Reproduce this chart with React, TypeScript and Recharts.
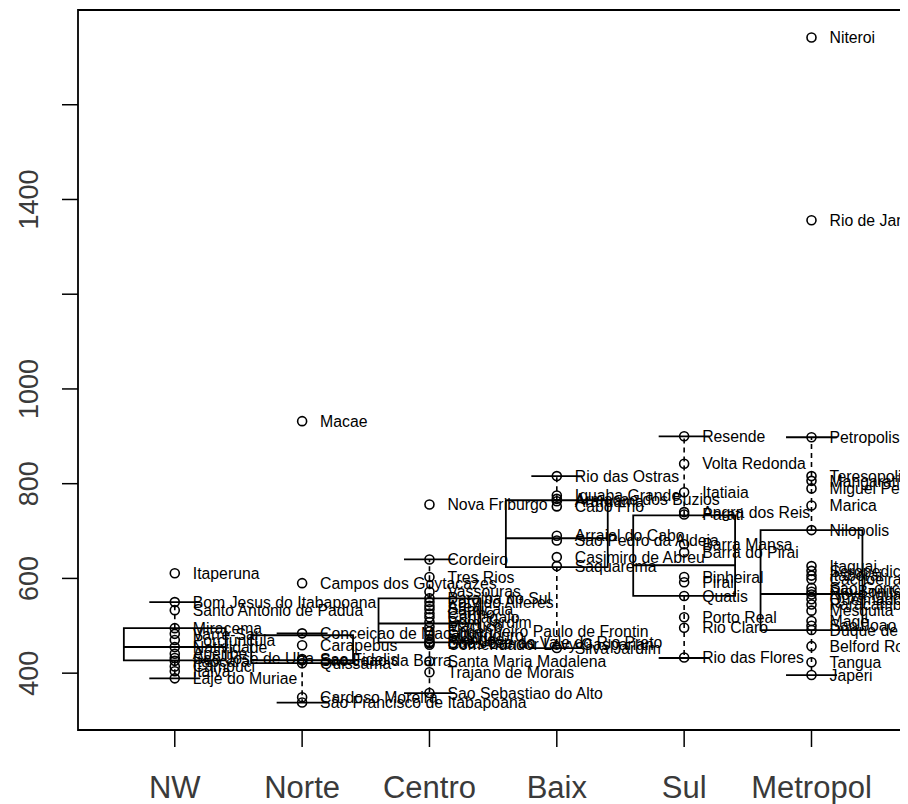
import {
  ComposedChart,
  Scatter,
  XAxis,
  YAxis,
  ReferenceArea,
  ReferenceLine,
} from 'recharts';

const regions = ['NW', 'Norte', 'Centro', 'Baix', 'Sul', 'Metropol'];

const yTicks = [400, 600, 800, 1000, 1200, 1400, 1600];
const yTickLabels = ['400', '600', '800', '1000', '', '1400', ''];

// box statistics, one entry per region
const whiskerLow = [389, 338, 358, 453, 432, 396];
const lowerHinge = [427, 421, 465, 624, 563, 491];
const medians = [455, 427, 505, 685, 628, 567];
const upperHinge = [495, 480, 558, 765, 733, 702];
const whiskerHigh = [550, 484, 640, 816, 900, 898];

const nwNames = [
  'Itaperuna', 'Bom Jesus do Itabapoana', 'Santo Antonio de Padua', 'Miracema',
  'Varre-Sai', 'Porciuncula', 'Natividade', 'Aperibe', 'Sao Jose de Uba',
  'Itaocara', 'Cambuci', 'Italva', 'Laje do Muriae',
];
const nwValues = [611, 550, 533, 495, 483, 470, 455, 441, 432, 426, 414, 404, 389];

const norteNames = [
  'Macae', 'Campos dos Goytacazes', 'Conceicao de Macabu', 'Carapebus',
  'Sao Fidelis', 'Sao Joao da Barra', 'Quissama', 'Cardoso Moreira',
  'São Francisco de Itabapoana',
];
const norteValues = [932, 590, 484, 459, 430, 427, 421, 349, 338];

const centroNames = [
  'Nova Friburgo', 'Cordeiro', 'Tres Rios', 'Vassouras', 'Paraiba do Sul',
  'Paty do Alferes', 'Areal', 'Sapucaia', 'Carmo', 'Cantagalo', 'Bom Jardim',
  'Macuco', 'Engenheiro Paulo de Frontin', 'Sumidouro', 'Mendes',
  'Sao Jose do Vale do Rio Preto', 'Duas Barras', 'Comendador Levy Gasparian',
  'Santa Maria Madalena', 'Trajano de Morais', 'Sao Sebastiao do Alto',
];
const centroValues = [
  756, 640, 603, 572, 558, 550, 542, 535, 526, 518, 508, 498, 488, 480, 472,
  466, 463, 460, 425, 402, 358,
];

const baixNames = [
  'Rio das Ostras', 'Iguaba Grande', 'Armacao dos Buzios', 'Araruama',
  'Cabo Frio', 'Arraial do Cabo', 'Sao Pedro da Aldeia', 'Casimiro de Abreu',
  'Saquarema', 'Silva Jardim',
];
const baixValues = [816, 775, 768, 763, 752, 690, 680, 645, 626, 453];

const sulNames = [
  'Resende', 'Volta Redonda', 'Itatiaia', 'Angra dos Reis', 'Parati',
  'Barra Mansa', 'Barra do Pirai', 'Pinheiral', 'Pirai', 'Quatis',
  'Porto Real', 'Rio Claro', 'Rio das Flores',
];
const sulValues = [900, 842, 782, 740, 735, 672, 655, 603, 592, 563, 518, 496, 433];

const metroNames = [
  'Niteroi', 'Rio de Janeiro', 'Petropolis', 'Teresopolis', 'Mangaratiba',
  'Miguel Pereira', 'Marica', 'Nilopolis', 'Itaguai', 'Seropedica', 'Itaborai',
  'Cachoeiras de Macacu', 'Sao Goncalo', 'Rio Bonito', 'Nova Iguacu',
  'Queimados', 'Paracambi', 'Mesquita', 'Mage', 'Sao Joao de Meriti',
  'Duque de Caxias', 'Belford Roxo', 'Tangua', 'Japeri',
];
const metroValues = [
  1742, 1356, 898, 816, 806, 790, 754, 702, 626, 616, 606, 598, 580, 572, 566,
  556, 545, 532, 510, 500, 491, 457, 423, 396,
];

const groups = [
  { names: nwNames, values: nwValues },
  { names: norteNames, values: norteValues },
  { names: centroNames, values: centroValues },
  { names: baixNames, values: baixValues },
  { names: sulNames, values: sulValues },
  { names: metroNames, values: metroValues },
];

const points = groups.flatMap((g, i) =>
  g.values.map((v, j) => ({ x: i + 1, y: v, name: g.names[j] }))
);

const xDomain: [number, number] = [0.24, 6.75];
const yDomain: [number, number] = [280, 1800];
const BOX_HALF = 0.4;
const CAP_HALF = 0.2;
const INK = '#000';
const AXIS_INK = '#3a3a3a';
const FONT = '"Liberation Sans", Arial, sans-serif';

function PointWithLabel(props: any) {
  const { cx, cy, payload } = props;
  if (cx == null || cy == null) return null;
  return (
    <g>
      <circle cx={cx} cy={cy} r={4.5} fill="none" stroke={INK} strokeWidth={1.6} />
      <text
        x={cx + 18}
        y={cy}
        dy="0.36em"
        fontSize={15.8}
        fontFamily={FONT}
        fill={INK}
      >
        {payload.name}
      </text>
    </g>
  );
}

function YTick(props: any) {
  const { x, y, payload } = props;
  const label = yTickLabels[yTicks.indexOf(payload.value)];
  if (!label) return null;
  return (
    <text
      x={x}
      y={y}
      transform={`rotate(-90, ${x}, ${y})`}
      textAnchor="middle"
      fontSize={27}
      fontFamily={FONT}
      fill={AXIS_INK}
    >
      {label}
    </text>
  );
}

export default function App() {
  const boxes = regions.flatMap((r, i) => {
    const g = i + 1;
    return [
      <ReferenceArea
        key={`box-${r}`}
        x1={g - BOX_HALF}
        x2={g + BOX_HALF}
        y1={lowerHinge[i]}
        y2={upperHinge[i]}
        fill="none"
        fillOpacity={0}
        stroke={INK}
        strokeWidth={1.8}
      />,
      <ReferenceLine
        key={`med-${r}`}
        segment={[{ x: g - BOX_HALF, y: medians[i] }, { x: g + BOX_HALF, y: medians[i] }]}
        stroke={INK}
        strokeWidth={2}
      />,
      <ReferenceLine
        key={`wu-${r}`}
        segment={[{ x: g, y: upperHinge[i] }, { x: g, y: whiskerHigh[i] }]}
        stroke={INK}
        strokeWidth={1.6}
        strokeDasharray="5 4"
      />,
      <ReferenceLine
        key={`wl-${r}`}
        segment={[{ x: g, y: lowerHinge[i] }, { x: g, y: whiskerLow[i] }]}
        stroke={INK}
        strokeWidth={1.6}
        strokeDasharray="5 4"
      />,
      <ReferenceLine
        key={`cu-${r}`}
        segment={[{ x: g - CAP_HALF, y: whiskerHigh[i] }, { x: g + CAP_HALF, y: whiskerHigh[i] }]}
        stroke={INK}
        strokeWidth={1.8}
      />,
      <ReferenceLine
        key={`cl-${r}`}
        segment={[{ x: g - CAP_HALF, y: whiskerLow[i] }, { x: g + CAP_HALF, y: whiskerLow[i] }]}
        stroke={INK}
        strokeWidth={1.8}
      />,
    ];
  });

  return (
    <div style={{ width: 900, height: 796, background: '#fff' }}>
      <ComposedChart
        width={900}
        height={796}
        margin={{ top: 2, right: 1, bottom: 0, left: 0 }}
      >
        <XAxis
          dataKey="x"
          type="number"
          domain={xDomain}
          allowDataOverflow
          ticks={[1, 2, 3, 4, 5, 6]}
          tickFormatter={(v: number) => regions[v - 1]}
          height={74}
          tickSize={17}
          tickMargin={29}
          axisLine={false}
          tickLine={{ stroke: INK, strokeWidth: 1.5 }}
          tick={{ fill: AXIS_INK, fontSize: 31, fontFamily: FONT }}
          interval={0}
        />
        <YAxis
          dataKey="y"
          type="number"
          domain={yDomain}
          allowDataOverflow
          ticks={yTicks}
          width={70}
          tickSize={16}
          tickMargin={24}
          axisLine={false}
          tickLine={{ stroke: INK, strokeWidth: 1.5 }}
          tick={<YTick />}
          interval={0}
        />
        <ReferenceArea
          x1={xDomain[0]}
          x2={xDomain[1]}
          y1={yDomain[0]}
          y2={yDomain[1]}
          fill="none"
          fillOpacity={0}
          stroke={INK}
          strokeWidth={1.8}
        />
        {boxes}
        <Scatter
          data={points}
          dataKey="y"
          shape={PointWithLabel}
          isAnimationActive={false}
        />
      </ComposedChart>
    </div>
  );
}
